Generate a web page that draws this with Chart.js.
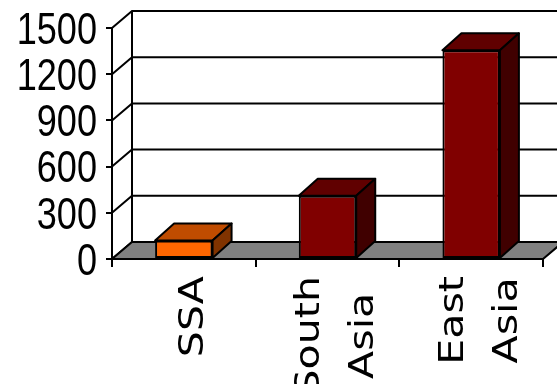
<!DOCTYPE html>
<html>
<head>
<meta charset="utf-8">
<title>Regions</title>
<script src="https://cdn.jsdelivr.net/npm/chart.js@4/dist/chart.umd.min.js"></script>
<style>
    html, body { margin: 0; padding: 0; background: #fff; }
    #regionChart { display: block; }
</style>
</head>
<body>
<canvas id="regionChart" width="557" height="384"></canvas>
<script>
const categories = ['SSA', 'South Asia', 'East Asia'];
const values = [120, 410, 1355];
const tickValues = [0, 300, 600, 900, 1200, 1500];

const frontColors = ['#FF6600', '#800000', '#800000'];
const topColors = ['#C04C00', '#600000', '#600000'];
const sideColors = ['#803300', '#400000', '#400000'];

// depth of the walls and of the bars
const wallDepth = { dx: 20, dy: -17 };
const barDepth = { dx: 19, dy: -17 };

// back wall, side grid and floor, drawn behind the bars
const wallsPlugin = {
    id: 'walls',
    beforeDatasetsDraw(chart) {
        const { ctx, chartArea } = chart;
        const y = chart.scales.y;
        const { dx, dy } = wallDepth;
        const left = chartArea.left;
        const right = chartArea.right;
        const base = y.getPixelForValue(0);

        ctx.save();
        ctx.strokeStyle = '#000';
        ctx.lineWidth = 2;

        ctx.beginPath();
        ctx.moveTo(left + dx, y.getPixelForValue(1500) + dy);
        ctx.lineTo(left + dx, base + dy);
        ctx.stroke();

        tickValues.forEach(v => {
            const py = y.getPixelForValue(v);
            ctx.beginPath();
            ctx.moveTo(left, py);
            ctx.lineTo(left + dx, py + dy);
            ctx.lineTo(right + dx, py + dy);
            ctx.stroke();
        });

        ctx.beginPath();
        ctx.moveTo(left, base);
        ctx.lineTo(right, base);
        ctx.lineTo(right + dx, base + dy);
        ctx.lineTo(left + dx, base + dy);
        ctx.closePath();
        ctx.fillStyle = '#808080';
        ctx.fill();
        ctx.stroke();
        ctx.restore();
    },
    afterDatasetsDraw(chart) {
        const { ctx } = chart;
        const { dx, dy } = barDepth;
        const bars = chart.getDatasetMeta(0).data;

        ctx.save();
        ctx.strokeStyle = '#000';
        ctx.lineWidth = 2;
        ctx.lineJoin = 'round';
        bars.forEach((bar, i) => {
            const p = bar.getProps(['x', 'y', 'width', 'base'], true);
            const l = p.x - p.width / 2;
            const r = p.x + p.width / 2;

            ctx.beginPath();
            ctx.moveTo(l, p.y);
            ctx.lineTo(l + dx, p.y + dy);
            ctx.lineTo(r + dx, p.y + dy);
            ctx.lineTo(r, p.y);
            ctx.closePath();
            ctx.fillStyle = topColors[i];
            ctx.fill();
            ctx.stroke();

            ctx.beginPath();
            ctx.moveTo(r, p.y);
            ctx.lineTo(r + dx, p.y + dy);
            ctx.lineTo(r + dx, p.base + dy);
            ctx.lineTo(r, p.base);
            ctx.closePath();
            ctx.fillStyle = sideColors[i];
            ctx.fill();
            ctx.stroke();
        });
        ctx.restore();
    }
};

// axis text: narrow value labels, wide rotated category names
const axisTextPlugin = {
    id: 'axisText',
    afterDraw(chart) {
        const { ctx } = chart;
        const x = chart.scales.x;
        const y = chart.scales.y;

        ctx.save();
        ctx.fillStyle = '#000';

        // value labels, squeezed horizontally
        const valueSize = 44;
        ctx.font = valueSize + 'px "Liberation Sans"';
        ctx.textAlign = 'right';
        ctx.textBaseline = 'alphabetic';
        tickValues.forEach(v => {
            ctx.save();
            ctx.translate(y.right - 15, y.getPixelForValue(v) + valueSize * 0.716 / 2);
            ctx.scale(0.82, 1);
            ctx.fillText(String(v), 0, 0);
            ctx.restore();
        });

        // category names, rotated, lines centred in their block
        const stretch = 1.21;
        const lineGap = 54;
        const top = chart.chartArea.bottom + 17;
        ctx.font = '34px "DejaVu Sans"';
        ctx.textAlign = 'center';
        ctx.textBaseline = 'middle';
        categories.forEach((name, i) => {
            const lines = name.split(' ');
            const cx = x.getPixelForValue(i) + 10;
            const widest = Math.max(...lines.map(l => ctx.measureText(l).width)) * stretch;
            const cy = top + widest / 2;
            lines.forEach((line, j) => {
                ctx.save();
                ctx.translate(cx + (j - (lines.length - 1) / 2) * lineGap, cy);
                ctx.rotate(-Math.PI / 2);
                ctx.scale(stretch, 1);
                ctx.fillText(line, 0, 0);
                ctx.restore();
            });
        });
        ctx.restore();
    }
};

const ctx = document.getElementById('regionChart').getContext('2d');
const chart = new Chart(ctx, {
    type: 'bar',
    data: {
        labels: categories,
        datasets: [{
            data: values,
            backgroundColor: frontColors,
            borderColor: '#000',
            borderWidth: 2,
            borderSkipped: false,
            categoryPercentage: 1,
            barPercentage: 0.4
        }]
    },
    options: {
        responsive: false,
        animation: false,
        layout: { padding: { top: 28, right: 14, left: 0, bottom: 0 } },
        plugins: {
            legend: { display: false },
            tooltip: { enabled: false }
        },
        scales: {
            x: {
                afterFit: scale => { scale.height = 125; },
                ticks: { display: false },
                grid: {
                    offset: true,
                    drawOnChartArea: false,
                    drawTicks: true,
                    tickLength: 8,
                    color: '#000',
                    lineWidth: 2
                },
                border: { display: false }
            },
            y: {
                min: 0,
                max: 1500,
                afterFit: scale => { scale.width = 112; },
                afterBuildTicks: scale => {
                    scale.ticks = tickValues.map(v => ({ value: v }));
                },
                ticks: { display: false, autoSkip: false },
                grid: {
                    drawOnChartArea: false,
                    drawTicks: true,
                    tickLength: 6,
                    color: '#000',
                    lineWidth: 2
                },
                border: { display: true, color: '#000', width: 2 }
            }
        }
    },
    plugins: [wallsPlugin, axisTextPlugin]
});
</script>
</body>
</html>
